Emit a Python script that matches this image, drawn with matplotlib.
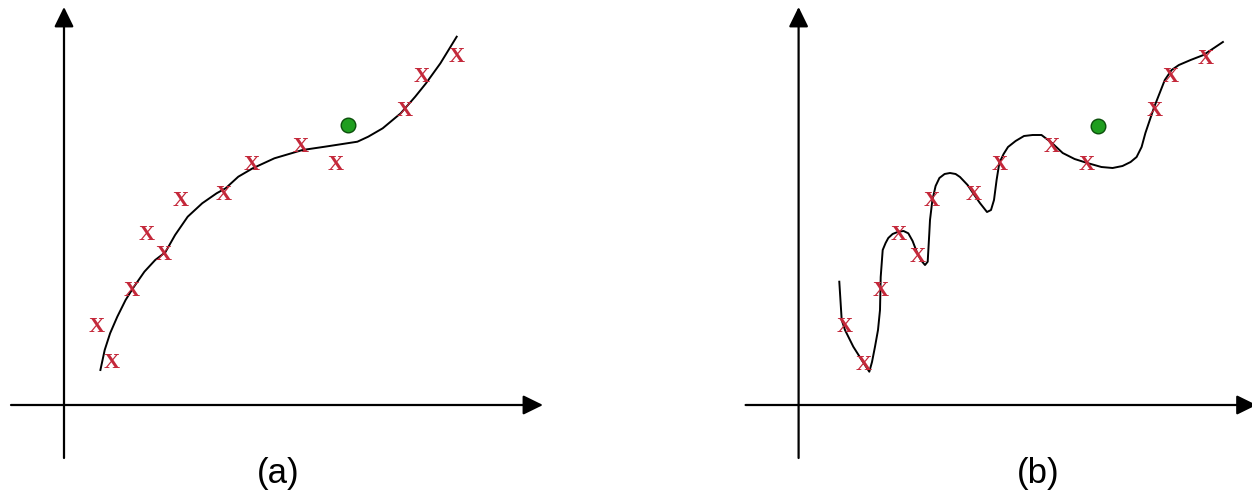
import matplotlib.pyplot as plt

# (a) smooth fit: observed points, fitted curve, query point
a_x = [3.3, 4.8, 6.8, 8.3, 10.0, 11.7, 16.0, 18.8, 23.7, 27.2, 34.1, 35.8, 39.3]
a_y = [8.1, 4.4, 11.6, 17.2, 15.3, 20.6, 21.3, 24.2, 26.0, 24.2, 29.7, 33.1, 35.0]
a_fit_x = [3.64, 4.07, 4.61, 5.33, 6.16, 6.89, 8.04, 9.12, 10.13, 11.11, 12.37, 13.82,
           15.26, 16.16, 17.43, 18.87, 21.04, 23.85, 26.09, 29.34, 30.42, 31.87,
           33.67, 35.12, 36.2, 37.64, 39.27]
a_fit_y = [3.5, 5.5, 7.17, 8.83, 10.5, 11.67, 13.33, 14.5, 15.27, 17.0, 18.83, 20.17,
           21.17, 21.67, 22.83, 23.67, 24.67, 25.5, 25.83, 26.33, 26.83, 27.67,
           29.17, 30.83, 32.17, 34.17, 36.83]
a_query = (28.4, 28.0)

# (b) overfit: same kind of points, wiggly curve through every one
b_x = [4.6, 6.5, 8.2, 10.0, 11.9, 13.3, 17.5, 20.1, 25.3, 28.8, 35.6, 37.2, 40.7]
b_y = [8.0, 4.2, 11.7, 17.2, 15.0, 20.6, 21.2, 24.2, 26.0, 24.2, 29.7, 33.0, 34.8]
b_fit_x = [4.07, 4.31, 4.64, 5.47, 6.31, 7.07, 7.34, 7.64, 7.94, 8.14, 8.21, 8.41,
           8.7, 8.97, 9.4, 9.97, 10.5, 10.97, 11.4, 11.87, 12.3, 12.64, 12.91, 13.07,
           13.14, 13.38, 13.7, 14.08, 14.6, 15.14, 15.7, 16.14, 16.9, 17.5, 18.13,
           18.84, 19.24, 19.54, 19.8, 20.07, 20.5, 20.94, 21.7, 22.54, 23.4, 24.29,
           25.34, 26.41, 27.6, 28.87, 30.28, 31.4, 32.39, 33.2, 33.8, 34.3, 34.68,
           35.56, 36.62, 37.3, 38.03, 39.2, 40.49, 42.43]
b_fit_y = [12.33, 8.5, 7.5, 5.83, 4.5, 3.33, 4.3, 5.83, 7.5, 9.5, 12.8, 15.5,
           16.2, 16.7, 17.1, 17.33, 17.4, 17.17, 16.4, 15.17, 14.4, 14.0, 14.33, 17.17,
           18.5, 20.5, 21.9, 22.7, 23.1, 23.2, 23.1, 22.8, 22.0, 21.1, 20.2,
           19.3, 19.5, 20.5, 22.5, 24.2, 25.1, 25.8, 26.4, 26.9, 27.0, 27.0,
           26.2, 25.2, 24.6, 24.2, 23.8, 23.7, 23.9, 24.3, 24.8, 25.8, 27.2,
           29.8, 32.5, 33.5, 34.0, 34.5, 35.0, 36.3]
b_query = (29.9, 27.9)

fig = plt.figure(figsize=(12.52, 4.98), dpi=100)
ax1 = fig.add_axes([0, 0, 0.5, 1])
ax2 = fig.add_axes([0.5, 0, 0.5, 1])
ax1.set_xlim(-6.4, 56.2)
ax2.set_xlim(-17.26, 45.34)

red = '#c4283a'


def draw_panel(ax, px, py, fx, fy, q, label, label_x, x_end):
    ax.set_ylim(-9.3, 40.5)
    ax.axis('off')
    arrow = dict(arrowstyle='-|>,head_length=0.55,head_width=0.27',
                 color='black', lw=1.6, mutation_scale=22, shrinkA=0, shrinkB=0)
    ax.annotate('', xy=(x_end, 0), xytext=(-5.3, 0), arrowprops=arrow,
                annotation_clip=False)
    ax.annotate('', xy=(0, 39.8), xytext=(0, -5.3), arrowprops=arrow,
                annotation_clip=False)
    ax.plot(fx, fy, color='black', lw=1.4, solid_joinstyle='round')
    for x, y in zip(px, py):
        ax.text(x, y, 'X', color=red, fontsize=16, family='Liberation Serif',
                weight='bold', ha='center', va='center_baseline')
    ax.plot(q[0], q[1], 'o', ms=10.5, mfc='#1f9e1f', mec='#0b4f0b', mew=1)
    ax.text(label_x, -6.8, label, fontsize=25, family='Liberation Sans',
            ha='center', va='center')


draw_panel(ax1, a_x, a_y, a_fit_x, a_fit_y, a_query, '(a)', 21.4, 47.9)
draw_panel(ax2, b_x, b_y, b_fit_x, b_fit_y, b_query, '(b)', 24.0, 45.8)

fig.savefig('out.png', dpi=100)
